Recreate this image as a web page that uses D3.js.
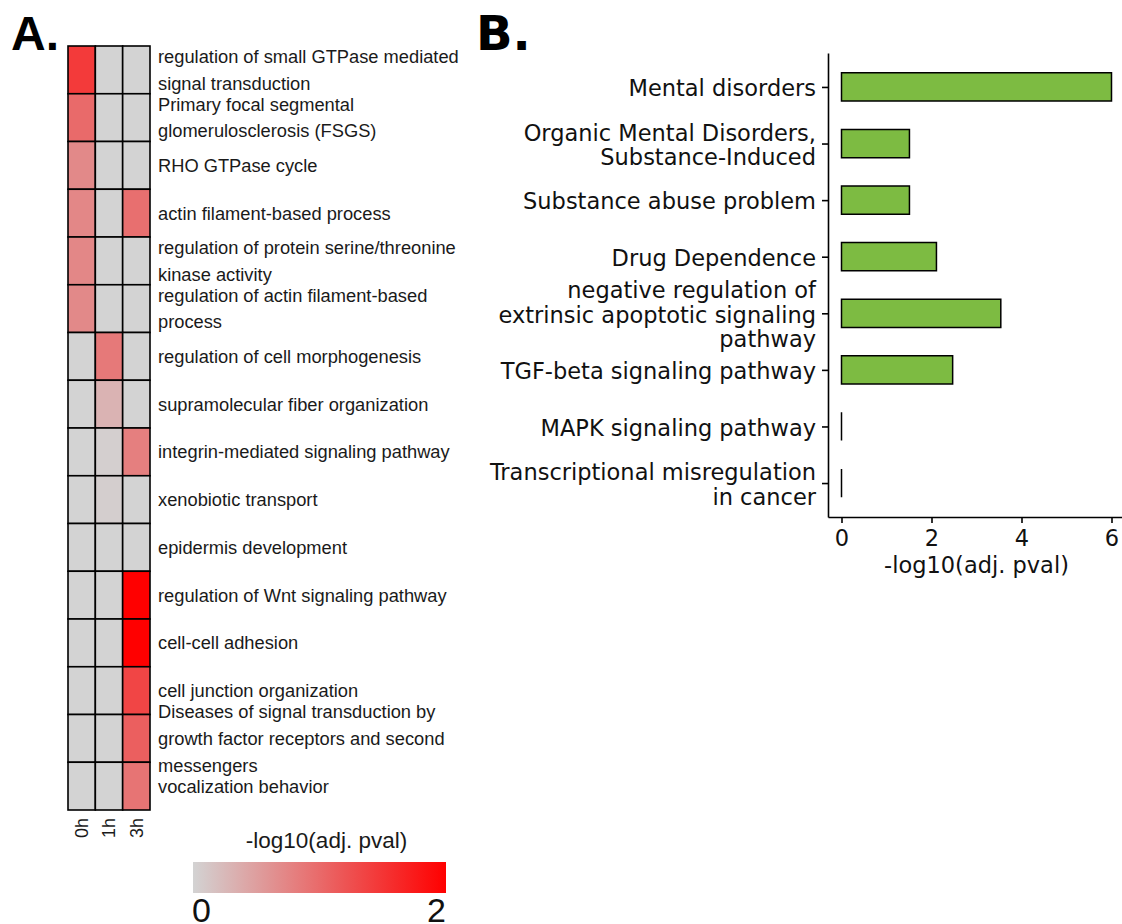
<!DOCTYPE html>
<html>
<head>
<meta charset="utf-8">
<script src="https://cdn.jsdelivr.net/npm/d3@7"></script>
<style>
  body { margin: 0; background: white; }
</style>
</head>
<body>
<div id="container"></div>
<script>

// ---- panel A data: heatmap of enriched terms over time ----
const heatTerms = [
  "regulation of small GTPase mediated\nsignal transduction",
  "Primary focal segmental\nglomerulosclerosis (FSGS)",
  "RHO GTPase cycle",
  "actin filament-based process",
  "regulation of protein serine/threonine\nkinase activity",
  "regulation of actin filament-based\nprocess",
  "regulation of cell morphogenesis",
  "supramolecular fiber organization",
  "integrin-mediated signaling pathway",
  "xenobiotic transport",
  "epidermis development",
  "regulation of Wnt signaling pathway",
  "cell-cell adhesion",
  "cell junction organization",
  "Diseases of signal transduction by\ngrowth factor receptors and second\nmessengers",
  "vocalization behavior"
];
const times = ["0h", "1h", "3h"];
const val0h = [1.45, 1.0, 0.7, 0.72, 0.72, 0.7, 0, 0, 0, 0, 0, 0, 0, 0, 0, 0];
const val1h = [0, 0, 0, 0, 0, 0, 0.85, 0.3, 0.04, 0.05, 0, 0, 0, 0, 0, 0];
const val3h = [0, 0, 0, 0.95, 0, 0, 0, 0, 0.8, 0, 0, 2, 2, 1.35, 1.1, 0.9];
const legendTicks = [0, 2];

// ---- panel B data: disease / pathway enrichment ----
const barTerms = [
  "Mental disorders",
  "Organic Mental Disorders,\nSubstance-Induced",
  "Substance abuse problem",
  "Drug Dependence",
  "negative regulation of\nextrinsic apoptotic signaling\npathway",
  "TGF-beta signaling pathway",
  "MAPK signaling pathway",
  "Transcriptional misregulation\nin cancer"
];
const barValues = [6.0, 1.51, 1.51, 2.11, 3.54, 2.47, 0, 0];
const barTicks = [0, 2, 4, 6];

const width = 1122, height = 924;
const svg = d3.create("svg").attr("width", width).attr("height", height);

// ================= panel A =================
const cells = [];
heatTerms.forEach((t, i) => {
  cells.push({ term: t, time: "0h", v: val0h[i] });
  cells.push({ term: t, time: "1h", v: val1h[i] });
  cells.push({ term: t, time: "3h", v: val3h[i] });
});

const xA = d3.scaleBand().domain(times).range([68, 150]);
const yA = d3.scaleBand().domain(heatTerms).range([46, 810]);
const color = d3.scaleLinear().domain([0, 2]).range(["#D3D3D3", "#FF0000"])
    .interpolate(d3.interpolateRgb).clamp(true);

const gA = svg.append("g");

gA.selectAll("rect.cell").data(cells).enter().append("rect")
    .attr("class", "cell")
    .attr("x", d => xA(d.time))
    .attr("y", d => yA(d.term))
    .attr("width", xA.bandwidth())
    .attr("height", yA.bandwidth())
    .attr("fill", d => color(d.v))
    .attr("stroke", "black")
    .attr("stroke-width", 1.6);

// row labels, multi-line
const rowLab = gA.selectAll("text.row").data(heatTerms).enter().append("text")
    .attr("class", "row")
    .attr("font-family", "Liberation Sans, Arial, sans-serif")
    .attr("font-size", 18.3)
    .attr("fill", "#1a1a1a");
rowLab.each(function(d) {
  const lines = d.split("\n");
  const cy = yA(d) + yA.bandwidth() / 2;
  d3.select(this).selectAll("tspan").data(lines).enter().append("tspan")
      .attr("x", 158)
      .attr("y", (l, i) => cy + (i - (lines.length - 1) / 2) * 26.8)
      .attr("dy", "0.35em")
      .text(l => l);
});

// column labels, rotated
gA.selectAll("text.col").data(times).enter().append("text")
    .attr("class", "col")
    .attr("transform", d => `translate(${xA(d) + xA.bandwidth() / 2}, 818) rotate(-90)`)
    .attr("text-anchor", "end")
    .attr("dy", "0.35em")
    .attr("font-family", "Liberation Sans, Arial, sans-serif")
    .attr("font-size", 18)
    .attr("fill", "#1a1a1a")
    .text(d => d);

// colour legend
const legX = d3.scaleLinear().domain([0, 2]).range([193, 446]);
const grad = svg.append("defs").append("linearGradient").attr("id", "heatgrad");
d3.range(0, 1.0001, 0.1).forEach(t => {
  grad.append("stop").attr("offset", t).attr("stop-color", color(t * 2));
});
gA.append("rect")
    .attr("x", legX(0)).attr("y", 862)
    .attr("width", legX(2) - legX(0)).attr("height", 31)
    .attr("fill", "url(#heatgrad)");
gA.append("text")
    .attr("x", (legX(0) + legX(2)) / 2 + 7).attr("y", 848)
    .attr("text-anchor", "middle")
    .attr("font-family", "Liberation Sans, Arial, sans-serif")
    .attr("font-size", 22.5)
    .attr("fill", "#1a1a1a")
    .text("-log10(adj. pval)");
gA.selectAll("text.leg").data(legendTicks).enter().append("text")
    .attr("class", "leg")
    .attr("x", (d, i) => legX(d) + (i === 0 ? -1 : 0))
    .attr("y", 922)
    .attr("text-anchor", (d, i) => i === 0 ? "start" : "end")
    .attr("font-family", "Liberation Sans, Arial, sans-serif")
    .attr("font-size", 34)
    .attr("fill", "#111")
    .text(d => d);

svg.append("text")
    .attr("x", 11).attr("y", 50)
    .attr("font-family", "Liberation Sans, Arial, sans-serif")
    .attr("font-weight", "bold")
    .attr("font-size", 48)
    .text("A.");

// ================= panel B =================
const xB = d3.scaleLinear().domain([-0.3, 6.3]).range([828, 1125]);
const yB = d3.scalePoint().domain(barTerms).range([53, 517]).padding(0.6);
const barH = yB.step() * 0.5;

const gB = svg.append("g");

gB.selectAll("path.bar").data(barTerms).enter().append("path")
    .attr("class", "bar")
    .attr("d", (d, i) => {
      const x0 = xB(0), x1 = xB(barValues[i]);
      const y0 = yB(d) - barH / 2, y1 = yB(d) + barH / 2;
      return `M${x0},${y0}H${x1}V${y1}H${x0}Z`;
    })
    .attr("fill", "#7DBB42")
    .attr("stroke", "black")
    .attr("stroke-width", 1.5);

const xAxis = gB.append("g")
    .attr("transform", "translate(0,517)")
    .call(d3.axisBottom(xB).tickValues(barTicks).tickFormat(d3.format("d"))
      .tickSize(6).tickSizeOuter(0).tickPadding(7));
const yAxis = gB.append("g")
    .attr("transform", "translate(828,0)")
    .call(d3.axisLeft(yB).tickSize(6).tickSizeOuter(0).tickPadding(6));

[xAxis, yAxis].forEach(ax => {
  ax.select(".domain").attr("stroke", "black").attr("stroke-width", 1.6);
  ax.selectAll(".tick line").attr("stroke", "black").attr("stroke-width", 1.6);
  ax.selectAll(".tick text")
      .attr("font-family", "DejaVu Sans, sans-serif")
      .attr("font-size", 22.5)
      .attr("fill", "#111");
});

// multi-line y tick labels
yAxis.selectAll(".tick text").each(function(d) {
  const lines = d.split("\n");
  const t = d3.select(this).text(null).attr("dy", null);
  t.selectAll("tspan").data(lines).enter().append("tspan")
      .attr("x", -12)
      .attr("y", (l, i) => (i - (lines.length - 1) / 2) * 24.5 + 1)
      .attr("dy", "0.35em")
      .text(l => l);
});

gB.append("text")
    .attr("x", (xB.range()[0] + xB.range()[1]) / 2)
    .attr("y", 573)
    .attr("text-anchor", "middle")
    .attr("font-family", "DejaVu Sans, sans-serif")
    .attr("font-size", 22.5)
    .attr("fill", "#111")
    .text("-log10(adj. pval)");

svg.append("text")
    .attr("x", 476).attr("y", 50)
    .attr("font-family", "DejaVu Sans, sans-serif")
    .attr("font-weight", "bold")
    .attr("font-size", 48)
    .text("B.");

container.append(svg.node());
</script>
</body>
</html>
